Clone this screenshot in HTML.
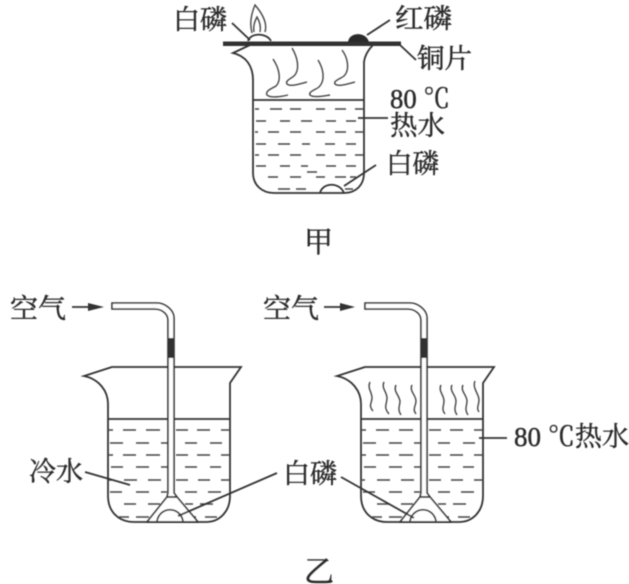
<!DOCTYPE html>
<html><head><meta charset="utf-8">
<style>
html,body{margin:0;padding:0;background:#fff;width:629px;height:584px;overflow:hidden}
svg{display:block}
text{font-family:"Liberation Serif","Noto Serif CJK SC",serif;fill:#2c2c2c;stroke:#2c2c2c;stroke-width:.45px;font-size:27px}
.l{fill:none;stroke:#333;stroke-width:1.8}
.t{fill:none;stroke:#444;stroke-width:1.4}
.d{fill:none;stroke:#444;stroke-width:1.6}
</style></head><body>
<svg width="629" height="584" viewBox="0 0 629 584" xmlns="http://www.w3.org/2000/svg">
<defs><filter id="b" x="-5%" y="-5%" width="110%" height="110%"><feGaussianBlur stdDeviation="0.4"/></filter></defs>
<g filter="url(#b)">
<!-- top beaker -->
<path class="l" d="M250 45 L233 53 C246 56 253 66 253 80 L253 173 C253 185 262 193 274 193 L344 193 C356 193 364 185 364 173 L364 62 C365 54 369 49 373 45"/>
<path class="l" d="M253 100 H364"/>
<rect x="223" y="41.5" width="178" height="4.5" fill="#333"/>
<path class="l" d="M400 45 L416 60"/>
<!-- flame & phosphorus -->
<path class="t" d="M252 33 C249 22 252 12 255 5 C261 12 268 22 265 32"/>
<path class="t" d="M254 32 C253 25 255 21 257 17 C260 22 261 27 260 32"/>
<path class="l" d="M248 41 C250 33 266 32 271 41"/>
<path class="l" d="M232 23 L250 40"/>
<!-- red phosphorus -->
<path d="M348 42 C349 32 366 31 369 42 Z" fill="#2a2a2a"/>
<path class="l" d="M367 35 L390 20"/>
<!-- steam top -->
<path class="t" d="M273 59 C279 68 282 80 276 86 C271 89 265 91 267 95 C270 98 280 97 288 95"/>
<path class="t" d="M292 48 C298 58 300 70 294 76 C290 79 285 81 287 84 C290 87 300 84 307 82"/>
<path class="t" d="M318 60 C323 68 326 80 319 87 C315 90 308 92 310 95 C313 98 323 96 330 95"/>
<path class="t" d="M342 50 C348 58 350 70 344 76 C340 79 333 81 335 84 C338 87 348 84 355 82"/>
<!-- dashes top -->
<path class="d" d="M255 109h4M270 109h12M290 109h11M316 109h9M335 109h11M355 109h8
M256 121h10M280 121h10M301 121h11M326 121h10M346 121h10
M255 132h3M268 132h11M290 132h11M316 132h9M335 132h11M355 132h8
M256 144h10M278 144h12M302 144h8M325 144h10M346 144h10
M255 155h4M268 155h11M290 155h11M316 155h9M335 155h11M355 155h8
M256 166h10M280 166h10M301 166h7M326 166h10M346 166h10
M268 177h10M290 177h11M307 172h10M316 177h9M335 177h11M350 177h6
M278 189h12M296 189h10M345 189h8"/>
<path class="l" fill="#fff" d="M320 193 C322 183 339 181 344 193"/>
<path class="l" d="M344 186 L376 165"/>
<path class="l" d="M358 118 H388"/>

<!-- bottom left apparatus -->
<g id="app">
<path class="l" d="M112 367 L84 376 C99 379 108 391 108 404 L108 496 C108 511 118 522 134 522 L206 522 C220 522 230 511 230 496 L230 383 L241 367 Z"/>
<path class="l" d="M108 419 H230"/>
<path class="d" d="M109 430h4M123 430h13M146 430h14M176 430h12M197 430h13M221 430h8
M110 443h13M136 443h13M161 443h13M185 443h12M210 443h12
M109 455h4M123 455h13M146 455h14M176 455h12M197 455h13M221 455h8
M111 467h12M136 467h13M161 467h13M185 467h12M210 467h11
M109 480h3M124 480h13M148 480h13M176 480h12M198 480h12M221 480h8
M110 492h12M136 492h13M161 492h6M185 492h12M208 492h13
M124 504h12M148 504h12M185 504h8M200 504h13
M119 517h10M136 517h13M188 517h8M205 517h12"/>
<!-- tube -->
<path fill="#fff" stroke="#333" stroke-width="1.6" d="M112 303 H157 C165 303 174 310 174 318 L174 493 L177 497 L198 522 L147 522 L167 497 L168 493 L168 320 C168 314 162 309 155 309 H112 Z"/>
<path class="l" d="M167 497 H177"/>
<rect x="168" y="338" width="6" height="20" fill="#333"/>
<path class="l" fill="#fff" d="M157 521 C160 506 180 506 183 521"/>
<path class="l" d="M147 522 H198"/>
</g>
<use href="#app" x="253" y="0"/>
<!-- steam right -->
<path class="t" d="M370 382 C367 388 372 392 372 398 C372 403 368 405 373 411"/>
<path class="t" d="M384 382 C381 388 387 392 387 398 C387 404 383 407 389 414"/>
<path class="t" d="M396 385 C393 391 399 395 400 401 C400 406 397 409 401 415"/>
<path class="t" d="M412 385 C409 391 416 395 416 401 C416 406 412 409 416 414"/>
<path class="t" d="M441 385 C438 391 444 395 444 401 C444 406 441 409 445 414"/>
<path class="t" d="M452 385 C449 391 456 395 456 401 C456 406 453 409 457 415"/>
<path class="t" d="M463 385 C460 391 467 395 467 401 C467 406 464 409 468 415"/>
<path class="t" d="M475 381 C472 388 479 394 479 400 C479 405 476 408 479 412"/>

<!-- leaders -->
<path class="l" d="M85 472 L130 485"/>
<path class="l" d="M277 473 L178 516"/>
<path class="l" d="M341 477 L414 518"/>
<path class="l" d="M479 438 H507"/>
<!-- arrows -->
<path class="l" d="M72 307 H100"/>
<path d="M88 303 L104 307 L88 311 Z" fill="#333"/>
<path class="l" d="M324 307 H352"/>
<path d="M340 303 L355 307 L340 311 Z" fill="#333"/>
<!-- labels -->
<text x="173" y="29" textLength="54" lengthAdjust="spacingAndGlyphs">白磷</text>
<text x="395" y="28" textLength="57" lengthAdjust="spacingAndGlyphs">红磷</text>
<text x="417" y="68" textLength="55" lengthAdjust="spacingAndGlyphs">铜片</text>
<text x="390" y="108" textLength="60" lengthAdjust="spacingAndGlyphs">80 ℃</text>
<text x="390" y="135" textLength="55" lengthAdjust="spacingAndGlyphs">热水</text>
<text x="386" y="173" textLength="53" lengthAdjust="spacingAndGlyphs">白磷</text>
<text x="304" y="252" style="font-size:29px">甲</text>
<text x="10" y="318" textLength="56" lengthAdjust="spacingAndGlyphs">空气</text>
<text x="263" y="318" textLength="56" lengthAdjust="spacingAndGlyphs">空气</text>
<text x="29" y="481" textLength="54" lengthAdjust="spacingAndGlyphs">冷水</text>
<text x="283" y="483" textLength="54" lengthAdjust="spacingAndGlyphs">白磷</text>
<text x="514" y="446" textLength="115" lengthAdjust="spacingAndGlyphs">80 ℃热水</text>
<text x="304" y="582" style="font-size:30px">乙</text>
</g>
</svg>
</body></html>
